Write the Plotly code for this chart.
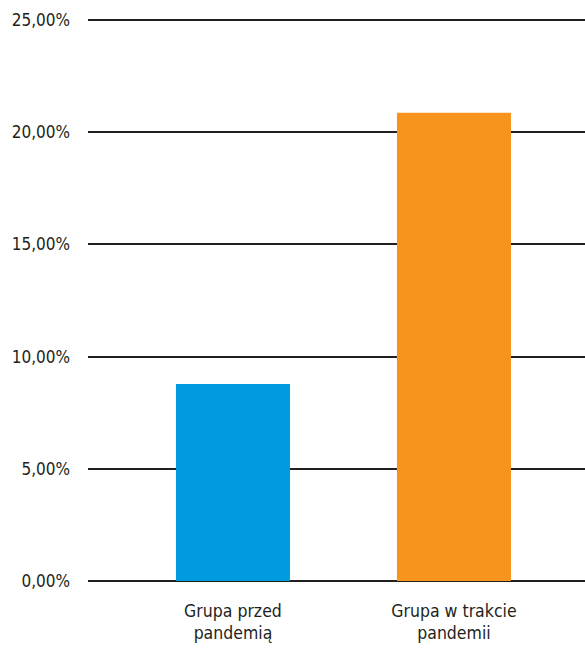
import plotly.graph_objects as go

categories = ["Grupa przed<br>pandemią", "Grupa w trakcie<br>pandemii"]
values = [0.0878, 0.2086]
colors = ["#009ADE", "#F7941D"]
tick_vals = [0, 0.05, 0.10, 0.15, 0.20, 0.25]

font_family = "Liberation Sans Narrow, DejaVu Sans Condensed, Roboto, sans-serif"

fig = go.Figure(go.Bar(
    x=[0, 1], y=values, marker=dict(color=colors, line=dict(width=0)),
    width=0.516,
))

fig.update_layout(
    width=585, height=653,
    margin=dict(l=88, r=0, t=15, b=72),
    plot_bgcolor="white", paper_bgcolor="white",
    separators=", ",
    showlegend=False,
    font=dict(family=font_family, size=17, color="#231f20"),
    xaxis=dict(
        range=[-0.656, 1.593],
        tickmode="array", tickvals=[0, 1], ticktext=categories,
        showgrid=False, zeroline=False, showline=False,
        ticks="", ticklabelstandoff=17, automargin=False,
        tickfont=dict(size=17.5),
    ),
    yaxis=dict(
        range=[0, 0.2522],
        tickvals=tick_vals, tickformat=".2%",
        showgrid=True, gridcolor="#231f20", gridwidth=1.6,
        zeroline=True, zerolinecolor="#231f20", zerolinewidth=1.6,
        showline=False, ticks="", ticklabelstandoff=17, automargin=False,
        tickfont=dict(size=17),
    ),
)

fig.write_html(
    "out.html",
    config={"displayModeBar": False},
    post_script="document.body.style.margin='0';document.body.style.overflow='hidden';",
)
